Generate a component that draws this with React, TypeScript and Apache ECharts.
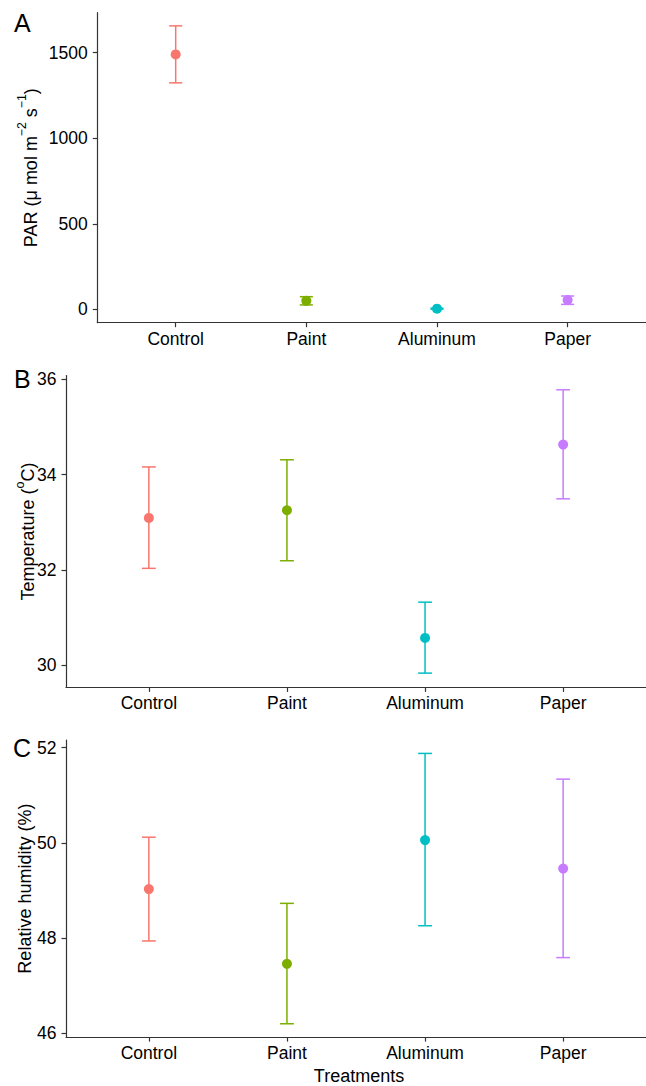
import React, { useEffect, useRef } from "react";
import * as echarts from "echarts";

const CATS = ["Control", "Paint", "Aluminum", "Paper"];
const COLORS = ["#F8766D", "#7CAE00", "#00BFC4", "#C77CFF"];

const PAR_MEAN = [1490, 50, 4, 54];
const PAR_LOW = [1324, 26, 1, 29];
const PAR_HIGH = [1657, 74, 7, 78];
const PAR_TICKS = [0, 500, 1000, 1500];

const TEMP_MEAN = [33.09, 33.25, 30.57, 34.63];
const TEMP_LOW = [32.03, 32.19, 29.83, 33.49];
const TEMP_HIGH = [34.16, 34.31, 31.32, 35.78];
const TEMP_TICKS = [30, 32, 34, 36];

const RH_MEAN = [49.03, 47.46, 50.06, 49.46];
const RH_LOW = [47.94, 46.2, 48.26, 47.59];
const RH_HIGH = [50.12, 48.73, 51.88, 51.34];
const RH_TICKS = [46, 48, 50, 52];

const FONT = "'Liberation Sans', Arial, Helvetica, sans-serif";
const TICK_FS = 17.5;
const TITLE_FS = 18;

const panels = [
  { left: 97.3, top: 12.7, height: 310, min: -78, max: 1734, ticks: PAR_TICKS, mean: PAR_MEAN, low: PAR_LOW, high: PAR_HIGH },
  { left: 66, top: 375.5, height: 311.9, min: 29.53, max: 36.08, ticks: TEMP_TICKS, mean: TEMP_MEAN, low: TEMP_LOW, high: TEMP_HIGH },
  { left: 66, top: 740.1, height: 297, min: 45.92, max: 52.16, ticks: RH_TICKS, mean: RH_MEAN, low: RH_LOW, high: RH_HIGH },
];

const CAT_POS = [1, 2, 3, 4];

export default function App() {
  const ref = useRef<HTMLDivElement>(null);
  useEffect(() => {
    if (!ref.current) return;
    const chart = echarts.init(ref.current, null, { renderer: "svg" });
    const grid: any[] = [];
    const xAxis: any[] = [];
    const yAxis: any[] = [];
    const series: any[] = [];
    panels.forEach((p, i) => {
      grid.push({ left: p.left, right: -6, top: p.top, height: p.height, containLabel: false });
      xAxis.push({
        type: "value",
        gridIndex: i,
        min: 0.4,
        max: 4.6,
        axisLine: { show: true, onZero: false, lineStyle: { color: "#333", width: 1.2 } },
        axisTick: { show: true, length: 4.5, customValues: CAT_POS, lineStyle: { color: "#333", width: 1.2 } },
        axisLabel: {
          customValues: CAT_POS,
          formatter: (v: number) => CATS[Math.round(v) - 1] ?? "",
          color: "#000",
          fontSize: TICK_FS,
          fontFamily: FONT,
          margin: 7,
        },
        splitLine: { show: false },
      });
      yAxis.push({
        type: "value",
        gridIndex: i,
        min: p.min,
        max: p.max,
        axisLine: { show: true, onZero: false, lineStyle: { color: "#333", width: 1.2 } },
        axisTick: { show: true, length: 4.5, customValues: p.ticks, lineStyle: { color: "#333", width: 1.2 } },
        axisLabel: {
          customValues: p.ticks,
          formatter: (v: number) => String(Math.round(v)),
          color: "#000",
          fontSize: TICK_FS,
          fontFamily: FONT,
          margin: 9.5,
        },
        splitLine: { show: false },
      });
      const barData = CAT_POS.map((x, k) => [x, p.low[k], p.high[k]]);
      series.push({
        type: "custom",
        xAxisIndex: i,
        yAxisIndex: i,
        clip: false,
        z: 2,
        data: barData,
        encode: { x: 0, y: [1, 2] },
        renderItem: (params: any, api: any) => {
          const x = api.value(0);
          const lo = api.value(1);
          const hi = api.value(2);
          const top = api.coord([x, hi]);
          const bot = api.coord([x, lo]);
          const l = api.coord([x - 0.05, hi]);
          const r = api.coord([x + 0.05, hi]);
          const hw = (r[0] - l[0]) / 2;
          const color = COLORS[params.dataIndex];
          const st = { stroke: color, lineWidth: 1.5 };
          return {
            type: "group",
            children: [
              { type: "line", shape: { x1: top[0], y1: top[1], x2: bot[0], y2: bot[1] }, style: st },
              { type: "line", shape: { x1: top[0] - hw, y1: top[1], x2: top[0] + hw, y2: top[1] }, style: st },
              { type: "line", shape: { x1: bot[0] - hw, y1: bot[1], x2: bot[0] + hw, y2: bot[1] }, style: st },
            ],
          };
        },
      });
      series.push({
        type: "scatter",
        xAxisIndex: i,
        yAxisIndex: i,
        z: 3,
        symbol: "circle",
        symbolSize: 10,
        data: CAT_POS.map((x, k) => ({ value: [x, p.mean[k]], itemStyle: { color: COLORS[k], opacity: 1 } })),
      });
    });

    const titleRich = (fs: number) => ({
      a: { fontSize: fs, fontFamily: FONT, color: "#000", lineHeight: 24, verticalAlign: "bottom" },
      s: { fontSize: fs * 0.68, fontFamily: FONT, color: "#000", lineHeight: 14, verticalAlign: "top" },
      o: { fontSize: fs * 0.7, fontFamily: FONT, color: "#000", lineHeight: 22, verticalAlign: "top" },
    });

    const graphic: any[] = [
      { type: "text", left: 14, top: 10, style: { text: "A", fontSize: 25, fontFamily: FONT, fill: "#000" } },
      { type: "text", left: 14, top: 366, style: { text: "B", fontSize: 25, fontFamily: FONT, fill: "#000" } },
      { type: "text", left: 13, top: 735, style: { text: "C", fontSize: 25, fontFamily: FONT, fill: "#000" } },
      {
        type: "text",
        x: 28,
        y: 167.7,
        rotation: Math.PI / 2,
        style: {
          text: "{a|PAR (}{a|μ mol m}{s|−2}{a| s}{s|−1}{a|)}",
          rich: titleRich(TITLE_FS),
          align: "center",
          verticalAlign: "middle",
        },
      },
      {
        type: "text",
        x: 25,
        y: 531.5,
        rotation: Math.PI / 2,
        style: {
          text: "{a|Temperature (}{o|o}{a|C)}",
          rich: titleRich(TITLE_FS),
          align: "center",
          verticalAlign: "middle",
        },
      },
      {
        type: "text",
        x: 25,
        y: 888.6,
        rotation: Math.PI / 2,
        style: {
          text: "Relative humidity (%)",
          fontSize: TITLE_FS,
          fontFamily: FONT,
          fill: "#000",
          align: "center",
          verticalAlign: "middle",
        },
      },
      {
        type: "text",
        x: 359,
        y: 1076,
        style: {
          text: "Treatments",
          fontSize: TITLE_FS,
          fontFamily: FONT,
          fill: "#000",
          align: "center",
          verticalAlign: "middle",
        },
      },
    ];

    chart.setOption({
      animation: false,
      backgroundColor: "#fff",
      grid,
      xAxis,
      yAxis,
      series,
      graphic,
    });
    return () => chart.dispose();
  }, []);
  return <div ref={ref} style={{ position: "absolute", left: 0, top: 0, width: 646, height: 1086 }} />;
}
